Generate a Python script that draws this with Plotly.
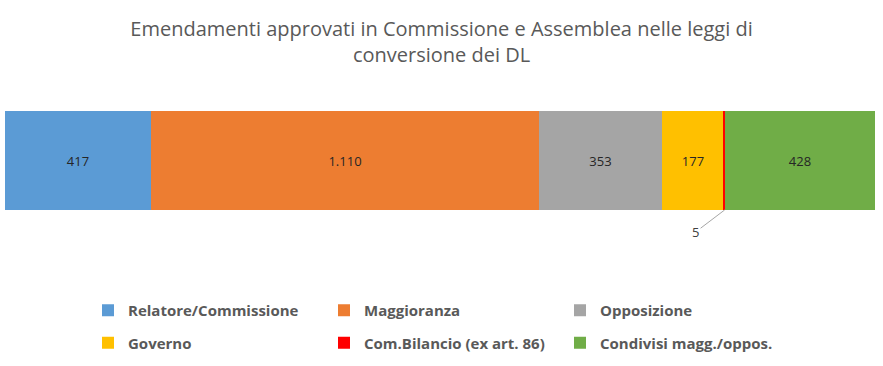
import plotly.graph_objects as go

categories = ["Relatore/Commissione", "Maggioranza", "Opposizione", "Governo",
              "Com.Bilancio (ex art. 86)", "Condivisi magg./oppos."]
values = [417, 1110, 353, 177, 5, 428]
colors = ["#5B9BD5", "#ED7D31", "#A5A5A5", "#FFC000", "#FF0000", "#70AD47"]
show_inside = [True, True, True, True, False, True]
legend_ids = ["legend", "legend2", "legend3", "legend", "legend2", "legend3"]

title_text = "Emendamenti approvati in Commissione e Assemblea nelle leggi di<br>conversione dei DL"

W, H = 883, 366

fig = go.Figure()
for name, v, c, show, lg in zip(categories, values, colors, show_inside, legend_ids):
    fig.add_trace(go.Bar(
        y=[""], x=[v], name=name, orientation="h",
        marker=dict(color=c, line=dict(width=0)),
        text=[v] if show else None,
        texttemplate="%{x:,}" if show else None,
        textposition="inside" if show else "none",
        insidetextanchor="middle",
        textfont=dict(color="#262626", size=13, family="Open Sans"),
        legend=lg, legendgroup=name,
        hoverinfo="skip",
    ))

total = sum(values)
small_idx = 4
small_center = sum(values[:small_idx]) + values[small_idx] / 2

legend_font = dict(family="Open Sans", size=15, color="#595959", weight="bold")
def legend_cfg(px_x, px_y=294):
    return dict(x=px_x / W, y=1 - px_y / H, xref="container", yref="container",
                xanchor="left", yanchor="top", orientation="v",
                traceorder="grouped", tracegroupgap=10,
                font=legend_font, bgcolor="rgba(0,0,0,0)",
                itemwidth=30)

fig.update_layout(
    width=W, height=H,
    margin=dict(l=5, r=8, t=111, b=156, autoexpand=False),
    paper_bgcolor="white", plot_bgcolor="white",
    barmode="stack", bargap=0,
    separators=",.",
    title=dict(text=title_text, x=0.5, xanchor="center", y=1 - 36 / H, yanchor="top",
               font=dict(family="Open Sans", size=20, color="#595959")),
    xaxis=dict(range=[0, total], visible=False, fixedrange=True),
    yaxis=dict(range=[-0.5, 0.5], visible=False, fixedrange=True),
    showlegend=True,
    legend=legend_cfg(88),
    legend2=legend_cfg(324),
    legend3=legend_cfg(560),
    annotations=[dict(
        x=small_center, y=-0.5, xref="x", yref="y",
        text=str(values[small_idx]), showarrow=True, arrowhead=0,
        arrowcolor="#A6A6A6", arrowwidth=1, ax=-29, ay=22,
        font=dict(family="Open Sans", size=13, color="#404040"),
        standoff=0,
    )],
)

fig.write_html("out.html", config={"displayModeBar": False},
               post_script="document.body.style.margin='0';")
